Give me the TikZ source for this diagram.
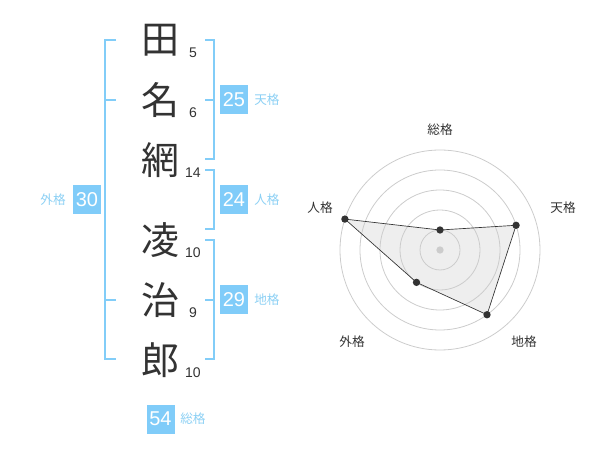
\documentclass[tikz,border=0pt]{standalone}
\usepackage{fontspec}
\setmainfont{Liberation Sans}
\newfontfamily\cjk{Noto Sans CJK JP}
\definecolor{brk}{HTML}{82CDF8}
\definecolor{boxc}{HTML}{80CCF9}
\definecolor{lbl}{HTML}{8CD0F4}
\definecolor{ink}{HTML}{333333}
\definecolor{ring}{HTML}{CCCCCC}
\definecolor{area}{HTML}{EEEEEE}
\begin{document}
\begin{tikzpicture}[x=0.75pt,y=-0.75pt,
 kanji/.style={font=\cjk\fontsize{28.5}{28.5}\selectfont, text=ink, inner sep=0},
 strokes/.style={font=\fontsize{10.5}{12}\selectfont, text=ink, inner sep=0},
 numbox/.style={fill=boxc, text=white, minimum width=21pt, minimum height=21.75pt, inner sep=0, font=\fontsize{15}{15}\selectfont},
 kaku/.style={text=lbl, font=\cjk\fontsize{9.5}{10}\selectfont, inner sep=0},
 brack/.style={draw=brk, line width=1.5pt},
 axislbl/.style={text=ink, font=\cjk\fontsize{9.5}{10}\selectfont, inner sep=0},
 ringc/.style={draw=ring, line width=0.6pt},
 dot/.style={circle, fill=ink, inner sep=0, minimum size=5.5pt},
 cdot/.style={circle, fill=ring, inner sep=0, minimum size=5.5pt},
 polyfill/.style={fill=area},
 polyline/.style={draw=ink, line width=0.5pt}]
\useasboundingbox (0,0) rectangle (600,470);
% kanji
\node[kanji] (k1) at (160,40) {田};
\node[kanji] (k2) at (160,100) {名};
\node[kanji] (k3) at (160,160) {網};
\node[kanji] (k4) at (160,240) {凌};
\node[kanji] (k5) at (160,300) {治};
\node[kanji] (k6) at (160,360) {郎};
% stroke counts
\node[strokes] (n1) at (193,53) {5};
\node[strokes] (n2) at (193,113) {6};
\node[strokes] (n3) at (193,173) {14};
\node[strokes] (n4) at (193,253) {10};
\node[strokes] (n5) at (193,313) {9};
\node[strokes] (n6) at (193,373) {10};
% brackets
\coordinate (la) at (116,40); \coordinate (lb) at (105,40);
\coordinate (lc) at (105,359); \coordinate (ld) at (116,359);
\coordinate (lm1) at (105,100); \coordinate (lm1e) at (116,100);
\coordinate (lm2) at (105,300); \coordinate (lm2e) at (116,300);
\draw[brack] (la) -- (lb) -- (lc) -- (ld);
\draw[brack] (lm1) -- (lm1e);
\draw[brack] (lm2) -- (lm2e);
\coordinate (ra) at (205,40); \coordinate (rb) at (214,40);
\coordinate (rc) at (214,159); \coordinate (rd) at (205,159);
\coordinate (rm) at (214,100); \coordinate (rme) at (205,100);
\draw[brack] (ra) -- (rb) -- (rc) -- (rd);
\draw[brack] (rm) -- (rme);
\coordinate (sa) at (205,170); \coordinate (sb) at (214,170);
\coordinate (sc) at (214,229); \coordinate (sd) at (205,229);
\draw[brack] (sa) -- (sb) -- (sc) -- (sd);
\coordinate (ta) at (205,240); \coordinate (tb) at (214,240);
\coordinate (tc) at (214,359); \coordinate (td) at (205,359);
\coordinate (tm) at (214,300); \coordinate (tme) at (205,300);
\draw[brack] (ta) -- (tb) -- (tc) -- (td);
\draw[brack] (tm) -- (tme);
% boxes and labels
\node[numbox] (b1) at (234,100) {25};
\node[kaku, anchor=west] (l1) at (254,100) {天格};
\node[numbox] (b2) at (234,200) {24};
\node[kaku, anchor=west] (l2) at (254,200) {人格};
\node[numbox] (b3) at (234,300) {29};
\node[kaku, anchor=west] (l3) at (254,300) {地格};
\node[numbox] (b4) at (87,200) {30};
\node[kaku, anchor=east] (l4) at (66,200) {外格};
\node[numbox] (b5) at (160.5,419) {54};
\node[kaku, anchor=west] (l5) at (180,419) {総格};
% radar
\begin{scope}[shift={(440,250)}]
\coordinate (p1) at (-90:20);
\coordinate (p2) at (-18:80);
\coordinate (p3) at (54:80);
\coordinate (p4) at (126:40);
\coordinate (p5) at (-162:100);
\fill[polyfill] (p1) -- (p2) -- (p3) -- (p4) -- (p5) -- cycle;
\foreach \r in {20,40,60,80,100} \draw[ringc] (0,0) circle[radius=\r];
\node[cdot] (c0) at (0,0) {};
\draw[polyline] (p1) -- (p2) -- (p3) -- (p4) -- (p5) -- cycle;
\node[dot] (d1) at (p1) {};
\node[dot] (d2) at (p2) {};
\node[dot] (d3) at (p3) {};
\node[dot] (d4) at (p4) {};
\node[dot] (d5) at (p5) {};
\end{scope}
\node[axislbl] (a1) at (440,130) {総格};
\node[axislbl] (a2) at (563,208) {天格};
\node[axislbl] (a3) at (524,342) {地格};
\node[axislbl] (a4) at (352,342) {外格};
\node[axislbl] (a5) at (320,208) {人格};
\end{tikzpicture}
\end{document}
